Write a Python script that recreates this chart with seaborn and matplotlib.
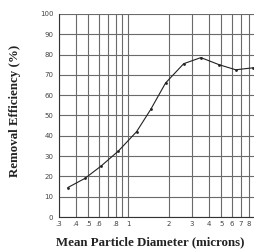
import numpy as np
import matplotlib
matplotlib.use("Agg")
import matplotlib.pyplot as plt
import matplotlib.ticker as mticker
import seaborn as sns
import pandas as pd

# --- data ---
diameter = [0.35, 0.47, 0.62, 0.84, 1.15, 1.47, 1.9, 2.6, 3.5, 4.8, 6.4, 8.7]
efficiency = [14.5, 19, 25, 32.5, 42, 53, 66, 75.5, 78.5, 75, 72.5, 73.5]
x_tick_vals = [0.3, 0.4, 0.5, 0.6, 0.8, 1, 2, 3, 4, 5, 6, 7, 8, 9]
x_tick_labels = [".3", ".4", ".5", ".6", ".8", "1", "2", "3", "4", "5", "6", "7", "8", "9"]
x_grid_vals = [0.3, 0.4, 0.5, 0.6, 0.7, 0.8, 0.9, 1, 2, 3, 4, 5, 6, 7, 8, 9]
y_ticks = list(range(0, 101, 10))

df = pd.DataFrame({"diameter": diameter, "efficiency": efficiency})

sns.set_style("white")
fig = plt.figure(figsize=(2.55, 2.49), dpi=100)
ax = fig.add_axes([0.231, 0.1285, 0.772, 0.8155])

ax.set_xscale("log")
ax.set_xlim(0.3, 9.05)
ax.set_ylim(0, 100)

for xv in x_grid_vals:
    ax.axvline(xv, color="#6a6a6a", lw=0.8, zorder=1)
for yv in y_ticks:
    ax.axhline(yv, color="#6a6a6a", lw=0.8, zorder=1)

sns.lineplot(data=df, x="diameter", y="efficiency", ax=ax, color="#222222",
             lw=0.8, marker="o", markersize=2, markeredgewidth=0, zorder=3)

ax.xaxis.set_major_locator(mticker.FixedLocator(x_tick_vals))
ax.xaxis.set_minor_locator(mticker.NullLocator())
ax.set_xticklabels(x_tick_labels)
ax.set_yticks(y_ticks)
ax.tick_params(axis="both", labelsize=5, colors="#444444", length=2.5, width=0.6, pad=1.5)
ax.tick_params(axis="x", length=0, pad=3)

for side in ["top", "right"]:
    ax.spines[side].set_visible(False)
for side in ["left", "bottom"]:
    ax.spines[side].set_color("#333333")
    ax.spines[side].set_linewidth(0.8)

label_font = dict(family=["Liberation Serif", "DejaVu Serif"], fontweight="bold", fontsize=9.3, color="#222222")
fig.text(0.59, 0.028, "Mean Particle Diameter (microns)", ha="center", va="center", **label_font)
fig.text(0.06, 0.555, "Removal Efficiency (%)", ha="center", va="center", rotation=90, **label_font)
ax.set_xlabel("")
ax.set_ylabel("")

fig.savefig("out.png", dpi=100)
